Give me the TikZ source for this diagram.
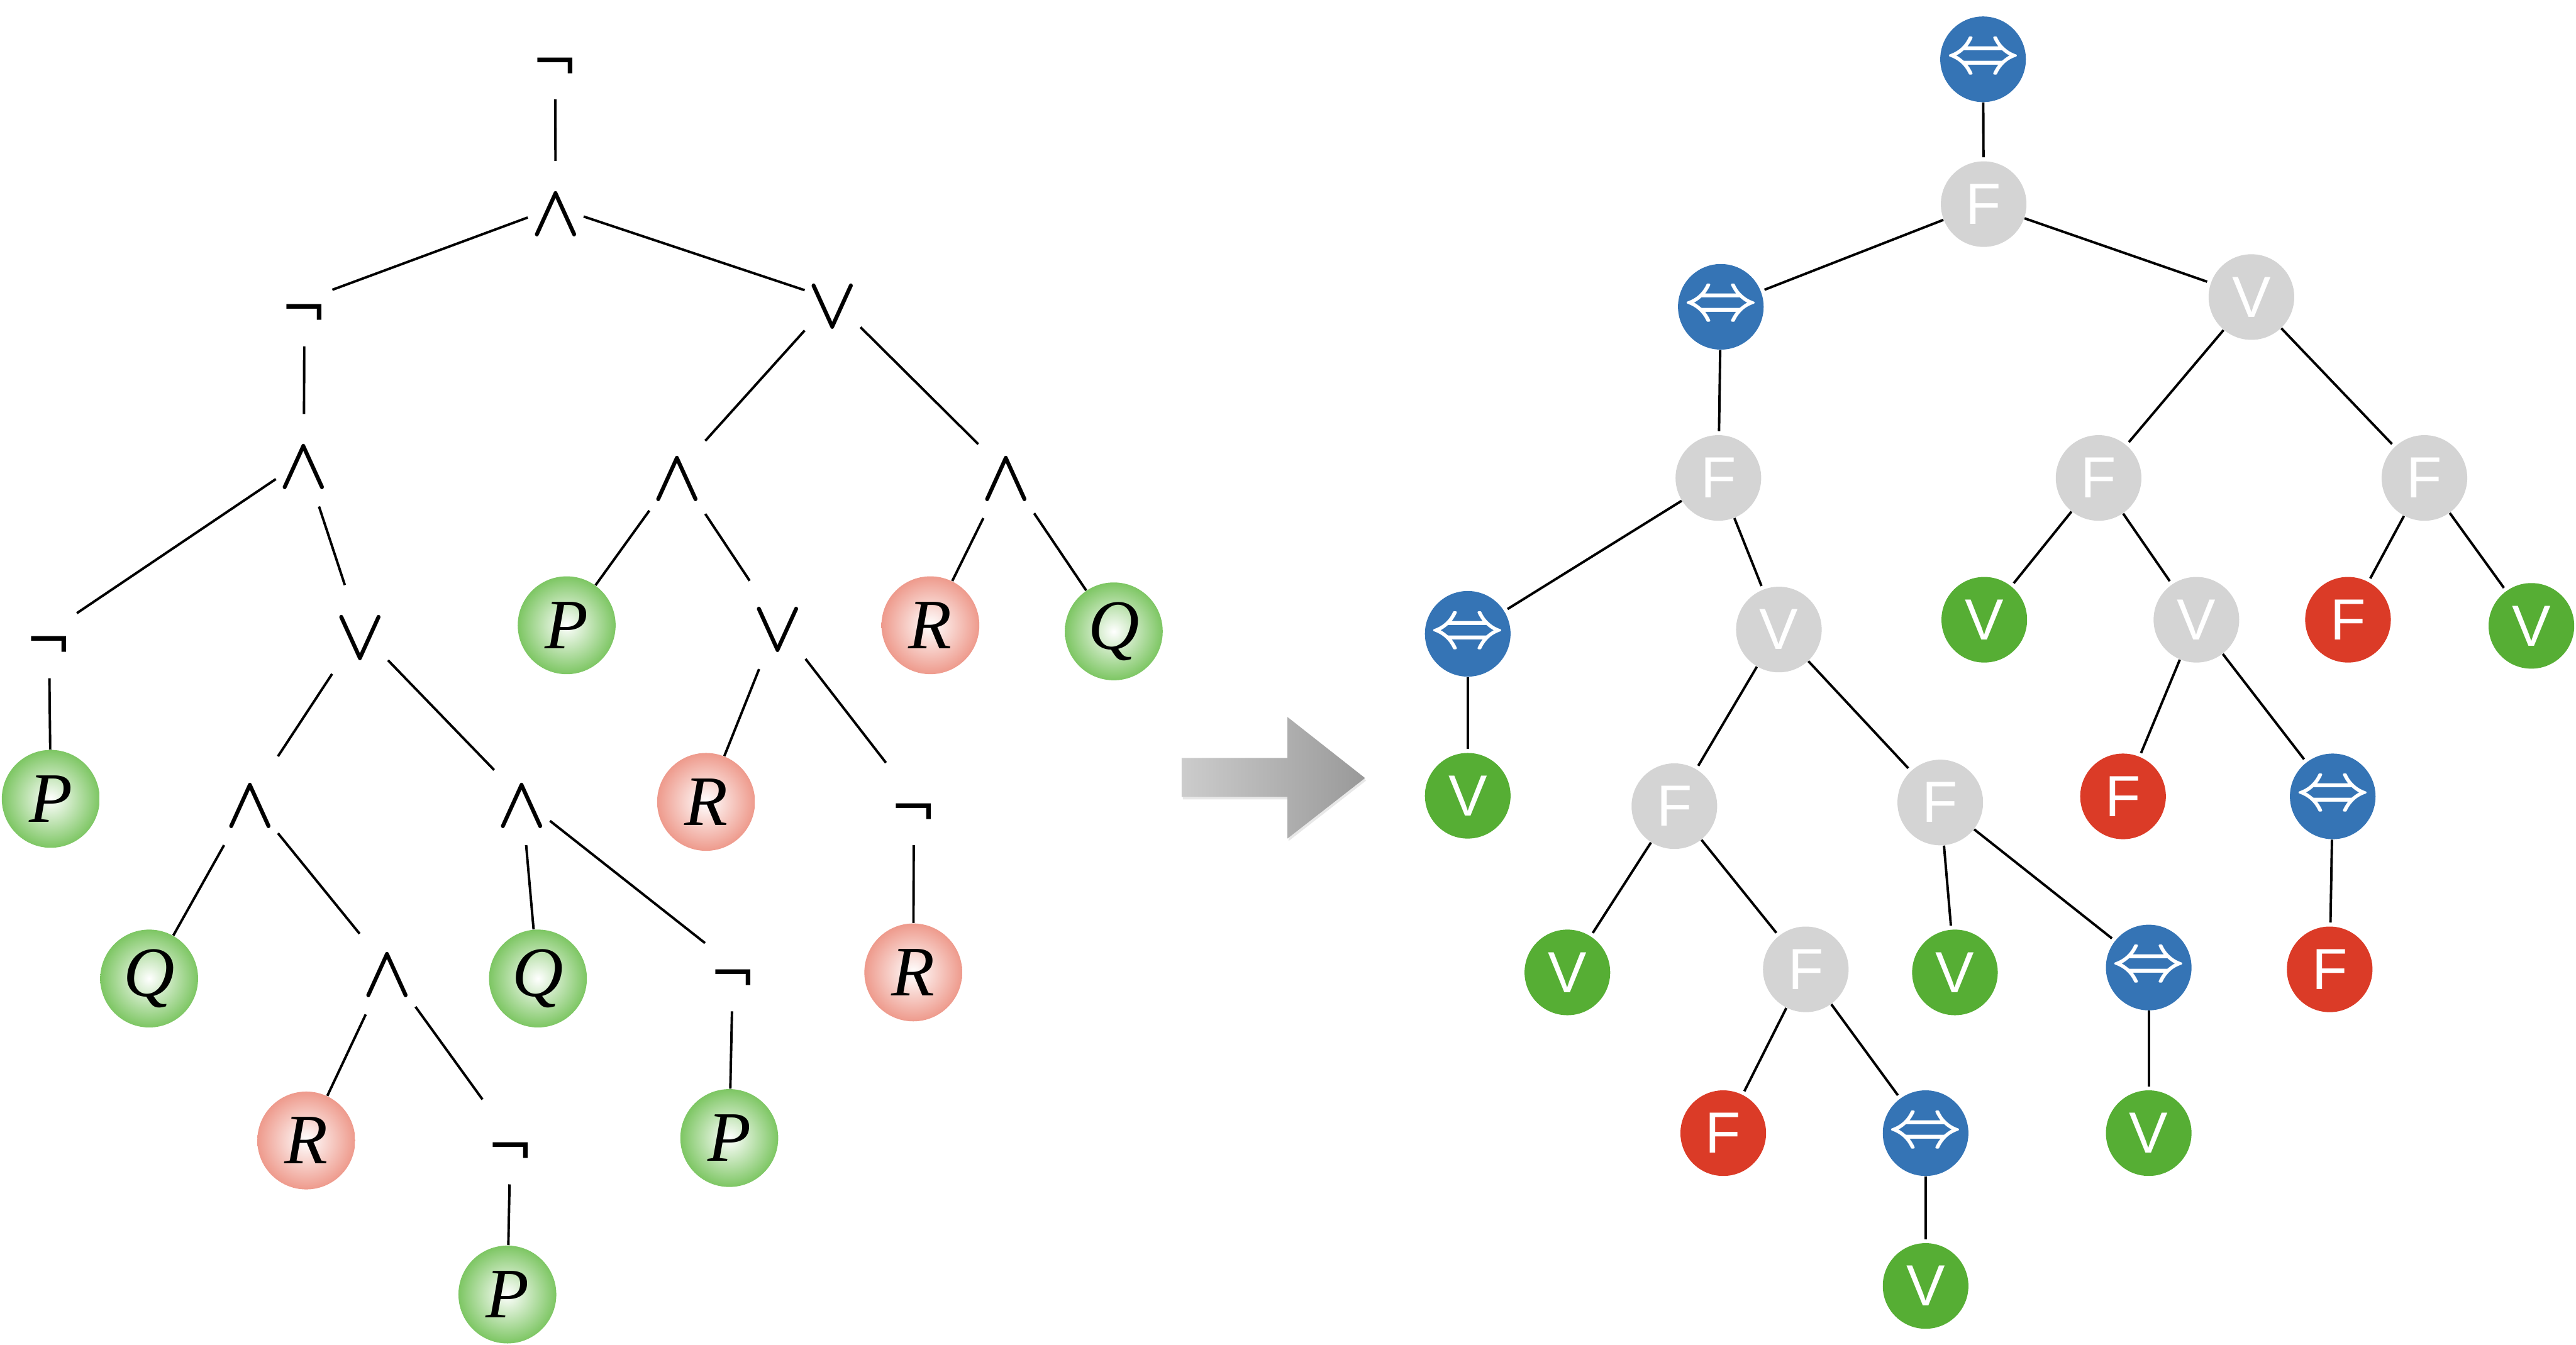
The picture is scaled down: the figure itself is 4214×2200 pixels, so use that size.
\documentclass[tikz,border=0pt]{standalone}
\usepackage{fontspec}
\usepackage{graphicx}
\usetikzlibrary{shadows}
\newfontfamily\djv{DejaVu Sans}
\newfontfamily\lsans{Liberation Sans}
\newfontfamily\lserif{Liberation Serif}
\definecolor{leafgreen}{HTML}{7DC663}
\definecolor{leafred}{HTML}{EE9A8C}
\definecolor{nblue}{HTML}{3574B5}
\definecolor{ngray}{HTML}{D4D4D4}
\definecolor{ngreen}{HTML}{56AE34}
\definecolor{nred}{HTML}{DB3B27}
\newcommand\opfont{\djv\fontsize{26}{30}\selectfont}
\newcommand\bigop[1]{\scalebox{3.0}[3.4]{\fontsize{10}{12}\selectfont\boldmath$#1$}}
\newcommand\leaffont{\lserif\itshape\fontsize{33}{36}\selectfont}
\newcommand\rfont{\lsans\fontsize{27}{30}\selectfont}
\newcommand\dblarr{\scalebox{3.0}{\fontsize{10}{12}\selectfont\boldmath$\Leftrightarrow$}}
\begin{document}
\begin{tikzpicture}[x=0.01cm,y=-0.01cm,
  op/.style={rectangle, inner sep=0pt, minimum width=0.9cm, minimum height=1.5cm,
    text height=1.21cm, text depth=0.29cm, font=\opfont},
  leaf/.style={circle, inner sep=0pt, minimum size=1.6cm, font=\leaffont, inner color=white},
  lg/.style={leaf, outer color=leafgreen},
  lr/.style={leaf, outer color=leafred},
  rn/.style={circle, inner sep=0pt, minimum size=1.4cm, text=white, font=\rfont},
  rgr/.style={rn, fill=ngray},
  rbl/.style={rn, fill=nblue},
  rgn/.style={rn, fill=ngreen},
  rrd/.style={rn, fill=nred},
  edge/.style={line width=0.04cm, black},
  redge/.style={line width=0.04cm, black, shorten >=0.06cm}
]
\useasboundingbox (0,0) rectangle (4214,2200);

% ---------------- left tree ----------------
\node[op] (L1) at (908,87) {¬};
\node[op] (L2) at (909,339) {\bigop{\wedge}};
\node[op] (L3) at (498,491) {¬};
\node[op] (L4) at (1362,490) {\bigop{\vee}};
\node[op] (L5) at (497,753) {\bigop{\wedge}};
\node[op] (L6) at (1108,772) {\bigop{\wedge}};
\node[op] (L7) at (1646,772) {\bigop{\wedge}};
\node[op] (L8) at (80,1034) {¬};
\node[op] (L9) at (589,1033) {\bigop{\vee}};
\node[lg] (L10) at (927,1023) {P};
\node[op] (L11) at (1272,1019) {\bigop{\vee}};
\node[lr] (L12) at (1522,1023) {R};
\node[lg] (L13) at (1822,1033) {Q};
\node[lg] (L14) at (83,1307) {P};
\node[op] (L15) at (409,1307) {\bigop{\wedge}};
\node[op] (L16) at (854,1307) {\bigop{\wedge}};
\node[lr] (L17) at (1155,1312) {R};
\node[op] (L18) at (1495,1307) {¬};
\node[lg] (L19) at (244,1601) {Q};
\node[op] (L20) at (634,1584) {\bigop{\wedge}};
\node[lg] (L21) at (880,1601) {Q};
\node[op] (L22) at (1199,1579) {¬};
\node[lr] (L23) at (1494,1591) {R};
\node[lr] (L24) at (501,1866) {R};
\node[op] (L25) at (835,1862) {¬};
\node[lg] (L26) at (1193,1862) {P};
\node[lg] (L27) at (830,2118) {P};

\foreach \a/\b in {1/2,2/3,2/4,3/5,5/8,5/9,8/14,9/15,9/16,15/19,15/20,20/24,20/25,25/27,
  16/21,16/22,22/26,4/6,4/7,6/10,6/11,11/17,11/18,18/23,7/12,7/13}
  \draw[edge] (L\a) -- (L\b);

% ---------------- arrow ----------------
\path[left color=black!20, right color=black!40, draw=none,
  drop shadow={shadow xshift=0.02cm, shadow yshift=-0.04cm, opacity=0.18}]
  (1933,1240) -- (2106,1240) -- (2106,1173) -- (2233,1273) -- (2106,1372)
  -- (2106,1304) -- (1933,1304) -- cycle;

% ---------------- right tree ----------------
\node[rbl] (R1) at (3244,97) {\dblarr};
\node[rgr] (R2) at (3245,334) {F};
\node[rbl] (R3) at (2815,502) {\dblarr};
\node[rgr] (R4) at (3683,486) {V};
\node[rgr] (R5) at (2811,782) {F};
\node[rgr] (R6) at (3433,782) {F};
\node[rgr] (R7) at (3966,782) {F};
\node[rbl] (R8) at (2401,1037) {\dblarr};
\node[rgr] (R9) at (2910,1030) {V};
\node[rgn] (R10) at (3246,1014) {V};
\node[rgr] (R11) at (3593,1014) {V};
\node[rrd] (R12) at (3841,1014) {F};
\node[rgn] (R13) at (4141,1024) {V};
\node[rgn] (R14) at (2401,1302) {V};
\node[rgr] (R15) at (2739,1319) {F};
\node[rgr] (R16) at (3174,1313) {F};
\node[rrd] (R17) at (3473,1303) {F};
\node[rbl] (R18) at (3816,1303) {\dblarr};
\node[rgn] (R19) at (2564,1591) {V};
\node[rgr] (R20) at (2954,1586) {F};
\node[rgn] (R21) at (3198,1591) {V};
\node[rbl] (R22) at (3515,1583) {\dblarr};
\node[rrd] (R23) at (3811,1586) {F};
\node[rrd] (R24) at (2819,1854) {F};
\node[rbl] (R25) at (3150,1854) {\dblarr};
\node[rgn] (R26) at (3515,1854) {V};
\node[rgn] (R27) at (3150,2104) {V};

\foreach \a/\b in {1/2,2/3,2/4,3/5,5/8,5/9,8/14,9/15,9/16,15/19,15/20,20/24,20/25,25/27,
  16/21,16/22,22/26,4/6,4/7,6/10,6/11,11/17,11/18,18/23,7/12,7/13}
  \draw[redge] (R\a) -- (R\b);
\end{tikzpicture}
\end{document}
